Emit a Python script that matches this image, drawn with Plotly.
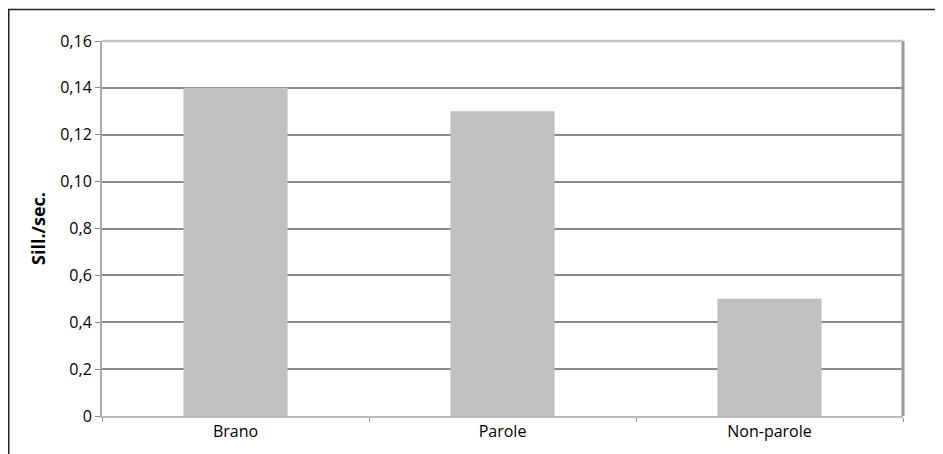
import plotly.graph_objects as go

categories = ["Brano", "Parole", "Non-parole"]
values = [0.14, 0.13, 0.05]
tick_vals = [0, 0.02, 0.04, 0.06, 0.08, 0.10, 0.12, 0.14, 0.16]
tick_text = ["0", "0,2", "0,4", "0,6", "0,8", "0,10", "0,12", "0,14", "0,16"]
y_title = "Sill./sec."

fig = go.Figure()
fig.add_trace(go.Bar(x=categories, y=values, marker=dict(color="#c0c0c0", line=dict(width=0)),
                     width=0.39, hoverinfo="x+y"))

# page has 8px body margin; compensate
OFF = 8
L, R, T, B = 102 - OFF, 40, 41 - OFF, 38
W, H = 943 - OFF, 454 - OFF
pw, ph = W - L - R, H - T - B

def px(x):
    return (x - OFF - L) / pw

def py(y):
    return (H - B - (y - OFF)) / ph

fig.update_layout(
    width=W, height=H,
    margin=dict(l=L, r=R, t=T, b=B),
    paper_bgcolor="white", plot_bgcolor="white",
    font=dict(family="Open Sans, Noto Sans, sans-serif", size=16, color="#000"),
    showlegend=False,
    xaxis=dict(
        type="category", range=[-0.5, 2.5], ticks="outside", tickson="boundaries",
        ticklen=4, tickcolor="#999", showline=True, linecolor="#bbb", linewidth=2,
        showgrid=False, tickfont=dict(size=16), mirror=False,
    ),
    yaxis=dict(
        range=[0, 0.16], tickvals=tick_vals, ticktext=tick_text,
        ticks="outside", ticklen=5, tickcolor="#888",
        showline=True, linecolor="#aaa", linewidth=2,
        showgrid=True, gridcolor="#8a8a8a", gridwidth=1.6,
        zeroline=False, tickfont=dict(size=16),
        title=dict(text="<b>" + y_title + "</b>", standoff=10, font=dict(size=18)),
    ),
    shapes=[
        dict(type="line", xref="paper", yref="paper", x0=px(8), x1=px(943 + 5), y0=py(9.5), y1=py(9.5),
             line=dict(color="#222", width=1.5)),
        dict(type="line", xref="paper", yref="paper", x0=px(8.75), x1=px(8.75), y0=py(9.5), y1=py(454 + 5),
             line=dict(color="#222", width=1.5)),
        dict(type="line", xref="paper", yref="paper", x0=1, x1=1, y0=0, y1=1,
             line=dict(color="#999", width=3)),
        dict(type="line", xref="paper", yref="paper", x0=0, x1=1, y0=1, y1=1,
             line=dict(color="#c4c4c4", width=2.5)),
    ],
)

fig.write_html("out.html")
